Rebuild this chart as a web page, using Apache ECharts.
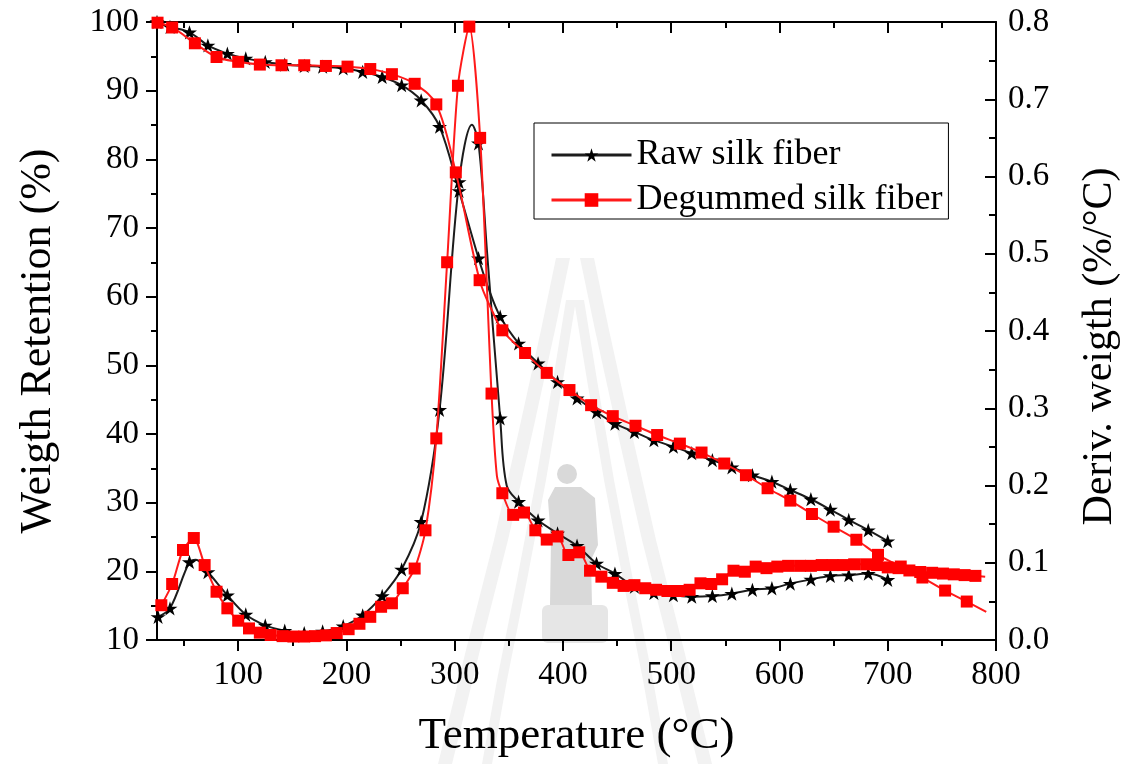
<!DOCTYPE html>
<html>
<head>
<meta charset="utf-8">
<title>TGA / DTG of silk fibers</title>
<script src="https://cdn.jsdelivr.net/npm/echarts@6/dist/echarts.min.js"></script>
<style>
  html, body { margin: 0; padding: 0; background: #ffffff; }
  #chart { width: 1128px; height: 764px; }
</style>
</head>
<body>
<div id="chart"></div>
<script>
// ---- axis ticks ----
const tempTicks = [100, 200, 300, 400, 500, 600, 700, 800];

// ---- TGA, raw silk fiber (points carrying a star marker) ----
const rawTgaT = [25, 37, 55, 72, 90, 107, 125, 143, 161, 178, 197, 215, 233, 251, 269, 286, 304, 322, 342, 359, 377, 395, 413, 431, 448, 466, 484, 502, 519, 538, 556, 575, 593, 610, 629, 647, 664, 682, 700];
const rawTgaW = [100, 99.3, 98.5, 96.6, 95.4, 94.7, 94.2, 93.8, 93.6, 93.5, 93.25, 92.75, 92.0, 90.8, 88.6, 84.75, 75.4, 65.6, 57.1, 53.2, 50.3, 47.6, 45.2, 43.2, 41.5, 40.3, 39.1, 38.15, 37.2, 36.2, 35.15, 34.0, 33.05, 31.85, 30.5, 29.0, 27.5, 26.0, 24.4];
// extra points on the curve between markers
const rawTgaCurveT = [331];
const rawTgaCurveW = [61.3];

// ---- TGA, degummed silk fiber (points carrying a square marker) ----
const degTgaT = [25.5, 39, 60, 80, 100, 120, 140, 161, 181, 201, 222, 242, 263, 283, 301, 323, 344, 365, 385, 406, 426, 446, 467, 487, 508, 528, 549, 569, 589, 610, 630, 650, 671, 691, 712, 732, 753, 773];
const degTgaW = [99.9, 99.2, 96.9, 94.9, 94.2, 93.8, 93.7, 93.7, 93.6, 93.5, 93.15, 92.4, 91.0, 88.0, 78.1, 62.4, 55.1, 51.8, 48.9, 46.4, 44.2, 42.6, 41.2, 39.85, 38.6, 37.3, 35.7, 34.0, 32.1, 30.3, 28.35, 26.5, 24.6, 22.4, 20.7, 19.1, 17.2, 15.6];
const degTgaCurveT = [335, 791];
const degTgaCurveW = [57.8, 14.1];

// ---- DTG, raw silk fiber (%/°C) ----
const rawDtgT = [26, 37, 55, 72, 90, 107, 125, 143, 161, 178, 197, 215, 233, 251, 269, 286, 304, 322, 342, 359, 377, 395, 413, 431, 448, 466, 484, 502, 519, 538, 556, 575, 593, 610, 629, 647, 664, 682, 700];
const rawDtgV = [0.030, 0.041, 0.101, 0.088, 0.058, 0.033, 0.019, 0.012, 0.009, 0.011, 0.018, 0.032, 0.057, 0.0915, 0.153, 0.298, 0.593, 0.643, 0.287, 0.179, 0.155, 0.138, 0.122, 0.099, 0.086, 0.069, 0.061, 0.058, 0.056, 0.057, 0.060, 0.065, 0.067, 0.073, 0.0785, 0.083, 0.084, 0.086, 0.078];
const rawDtgCurveT = [61, 316, 330, 348];
const rawDtgCurveV = [0.104, 0.667, 0.50, 0.200];

// ---- DTG, degummed silk fiber (%/°C) ----
const degDtgT = [29, 39, 49, 59, 69, 80, 90, 100, 110, 120, 130, 141, 151, 161, 171, 181, 191, 202, 212, 222, 232, 242, 252, 263, 273, 283, 293, 303, 313.5, 323.5, 334, 344, 354, 364, 374.5, 385, 395, 405, 415, 425, 435.5, 446, 456, 466, 476, 486, 496.5, 507, 517, 527, 537, 547, 557.5, 568, 578, 588, 598, 608, 619, 629, 639, 649, 659, 669, 680, 690, 700, 710, 720, 730, 741, 751, 761, 771, 781];
const degDtgV = [0.045, 0.0725, 0.1165, 0.132, 0.097, 0.0625, 0.041, 0.025, 0.015, 0.0095, 0.0065, 0.005, 0.0045, 0.0045, 0.005, 0.006, 0.009, 0.014, 0.021, 0.030, 0.043, 0.0475, 0.067, 0.0925, 0.142, 0.261, 0.489, 0.7175, 0.794, 0.650, 0.319, 0.190, 0.162, 0.165, 0.142, 0.130, 0.134, 0.110, 0.1135, 0.0897, 0.082, 0.074, 0.070, 0.071, 0.067, 0.065, 0.0634, 0.0634, 0.065, 0.0734, 0.0725, 0.0786, 0.0897, 0.0884, 0.095, 0.093, 0.095, 0.096, 0.096, 0.096, 0.097, 0.097, 0.097, 0.098, 0.098, 0.097, 0.094, 0.093, 0.090, 0.088, 0.087, 0.086, 0.085, 0.084, 0.083];
const degDtgCurveT = [339, 790];
const degDtgCurveV = [0.212, 0.082];

const SERIF = "'Liberation Serif', 'Times New Roman', Times, serif";
const STAR = 'path://M50,2 L61.23,36.55 L97.55,36.55 L68.16,57.9 L79.39,92.45 L50,71.1 L20.61,92.45 L31.84,57.9 L2.45,36.55 L38.77,36.55 Z';

// merge marker points with curve-only points, sorted by temperature
function buildPoints(markT, markV, curveT, curveV) {
  const pts = markT.map((t, i) => ({ value: [t, markV[i]] }));
  curveT.forEach((t, i) => pts.push({ value: [t, curveV[i]], symbol: 'none' }));
  pts.sort((a, b) => a.value[0] - b.value[0]);
  return pts;
}

const BLACK_LINE = '#1c1c1c';
const RED_LINE = '#ff1a1a';

function rawSeries(data, yIndex, smooth) {
  return {
    name: 'Raw silk fiber', type: 'line', xAxisIndex: 0, yAxisIndex: yIndex,
    data: data, smooth: smooth,
    symbol: STAR, symbolSize: 15, symbolKeepAspect: true, showAllSymbol: true,
    lineStyle: { color: BLACK_LINE, width: 2 },
    itemStyle: { color: '#000000' },
    emphasis: { disabled: true }, animation: false, z: 2
  };
}
function degSeries(data, yIndex, smooth) {
  return {
    name: 'Degummed silk fiber', type: 'line', xAxisIndex: 0, yAxisIndex: yIndex,
    data: data, smooth: smooth,
    symbol: 'rect', symbolSize: 12, showAllSymbol: true,
    lineStyle: { color: RED_LINE, width: 2 },
    itemStyle: { color: '#ff0000' },
    emphasis: { disabled: true }, animation: false, z: 3
  };
}

// faint emblem behind the plot
const MARK_LIGHT = '#f2f2f2';
const MARK_DARK = '#d9d9d9';
function band(points, width) {
  const left = points.map(p => [p[0], p[1]]);
  const right = points.map(p => [p[0] + width, p[1]]).reverse();
  return left.concat(right);
}
function mirror(pts) { return pts.map(p => [1150 - p[0], p[1]]); }
const outerBand = band([[556, 258], [541, 330], [519, 430], [494, 540], [466, 650], [438, 764]], 14);
const innerBand = band([[566, 300], [553, 380], [536, 480], [517, 580], [497, 680], [482, 764]], 10);
const emblem = [
  { type: 'polygon', shape: { points: outerBand }, style: { fill: MARK_LIGHT } },
  { type: 'polygon', shape: { points: mirror(outerBand) }, style: { fill: MARK_LIGHT } },
  { type: 'polygon', shape: { points: innerBand }, style: { fill: MARK_LIGHT } },
  { type: 'polygon', shape: { points: mirror(innerBand) }, style: { fill: MARK_LIGHT } },
  { type: 'rect', shape: { x: 542, y: 605, width: 66, height: 38, r: 6 }, style: { fill: '#e6e6e6' } },
  { type: 'circle', shape: { cx: 567, cy: 474, r: 10 }, style: { fill: MARK_DARK } },
  { type: 'polygon', shape: { points: [[555, 487], [581, 487], [595, 498], [598, 545], [591, 560], [592, 605], [550, 605], [551, 540], [548, 500]] }, style: { fill: MARK_DARK } }
].map(e => Object.assign({ silent: true, z: -10 }, e));

const axisLineStyle = { color: '#000', width: 2 };
const labelStyle = { fontFamily: SERIF, fontSize: 33, color: '#000' };
const nameStyle = { fontFamily: SERIF, fontSize: 44, color: '#000' };

const chart = echarts.init(document.getElementById('chart'), null, { renderer: 'canvas' });
chart.setOption({
  backgroundColor: '#ffffff',
  animation: false,
  textStyle: { fontFamily: SERIF },
  graphic: emblem,
  grid: { left: 157, right: 132, top: 22, bottom: 124, containLabel: false, outerBoundsMode: 'none' },
  legend: {
    orient: 'vertical', left: 534, top: 123,
    padding: [14, 6, 1, 16],
    itemWidth: 80, itemHeight: 17, itemGap: 9,
    borderColor: '#000', borderWidth: 1, borderRadius: 0,
    backgroundColor: '#ffffff',
    lineStyle: { width: 3 },
    textStyle: { fontFamily: SERIF, fontSize: 36, color: '#000' },
    data: ['Raw silk fiber', 'Degummed silk fiber']
  },
  xAxis: [
    {
      type: 'value', position: 'bottom', min: 25, max: 800, splitNumber: 8,
      name: 'Temperature (°C)', nameLocation: 'middle', nameGap: 74,
      nameTextStyle: Object.assign({}, nameStyle, { fontSize: 45 }),
      axisLine: { show: true, onZero: false, lineStyle: axisLineStyle },
      axisTick: { show: true, length: 11, lineStyle: axisLineStyle, customValues: tempTicks },
      minorTick: { show: true, splitNumber: 2, length: 6, lineStyle: axisLineStyle },
      axisLabel: Object.assign({ margin: 19, customValues: tempTicks }, labelStyle),
      splitLine: { show: false }
    },
    {
      type: 'value', position: 'top', min: 25, max: 800, splitNumber: 8,
      axisLine: { show: true, onZero: false, lineStyle: axisLineStyle },
      axisTick: { show: true, inside: true, length: 11, lineStyle: axisLineStyle, customValues: tempTicks },
      minorTick: { show: true, splitNumber: 2, length: 6, lineStyle: axisLineStyle },
      axisLabel: { show: false },
      splitLine: { show: false }
    }
  ],
  yAxis: [
    {
      type: 'value', position: 'left', min: 10, max: 100, interval: 10,
      name: 'Weigth Retention (%)', nameLocation: 'middle', nameGap: 97, nameRotate: 90,
      nameTextStyle: Object.assign({ padding: [0, 20, 0, 0] }, nameStyle),
      axisLine: { show: true, onZero: false, lineStyle: axisLineStyle },
      axisTick: { show: true, length: 11, lineStyle: axisLineStyle },
      minorTick: { show: true, splitNumber: 2, length: 6, lineStyle: axisLineStyle },
      axisLabel: Object.assign({ margin: 18 }, labelStyle),
      splitLine: { show: false }
    },
    {
      type: 'value', position: 'right', min: 0, max: 0.8, interval: 0.1,
      name: 'Deriv. weigth (%/°C)', nameLocation: 'middle', nameGap: 83, nameRotate: 90,
      nameTextStyle: Object.assign({ padding: [0, 31, 0, 0] }, nameStyle, { fontSize: 42 }),
      axisLine: { show: true, onZero: false, lineStyle: axisLineStyle },
      axisTick: { show: true, inside: true, length: 11, lineStyle: axisLineStyle },
      minorTick: { show: true, splitNumber: 2, length: 7, lineStyle: axisLineStyle },
      axisLabel: Object.assign({ margin: 12, formatter: v => v.toFixed(1) }, labelStyle),
      splitLine: { show: false }
    }
  ],
  series: [
    rawSeries(buildPoints(rawTgaT, rawTgaW, rawTgaCurveT, rawTgaCurveW), 0, 0.35),
    rawSeries(buildPoints(rawDtgT, rawDtgV, rawDtgCurveT, rawDtgCurveV), 1, 0.35),
    degSeries(buildPoints(degTgaT, degTgaW, degTgaCurveT, degTgaCurveW), 0, 0.35),
    degSeries(buildPoints(degDtgT, degDtgV, degDtgCurveT, degDtgCurveV), 1, 0.25)
  ]
});
</script>
</body>
</html>
